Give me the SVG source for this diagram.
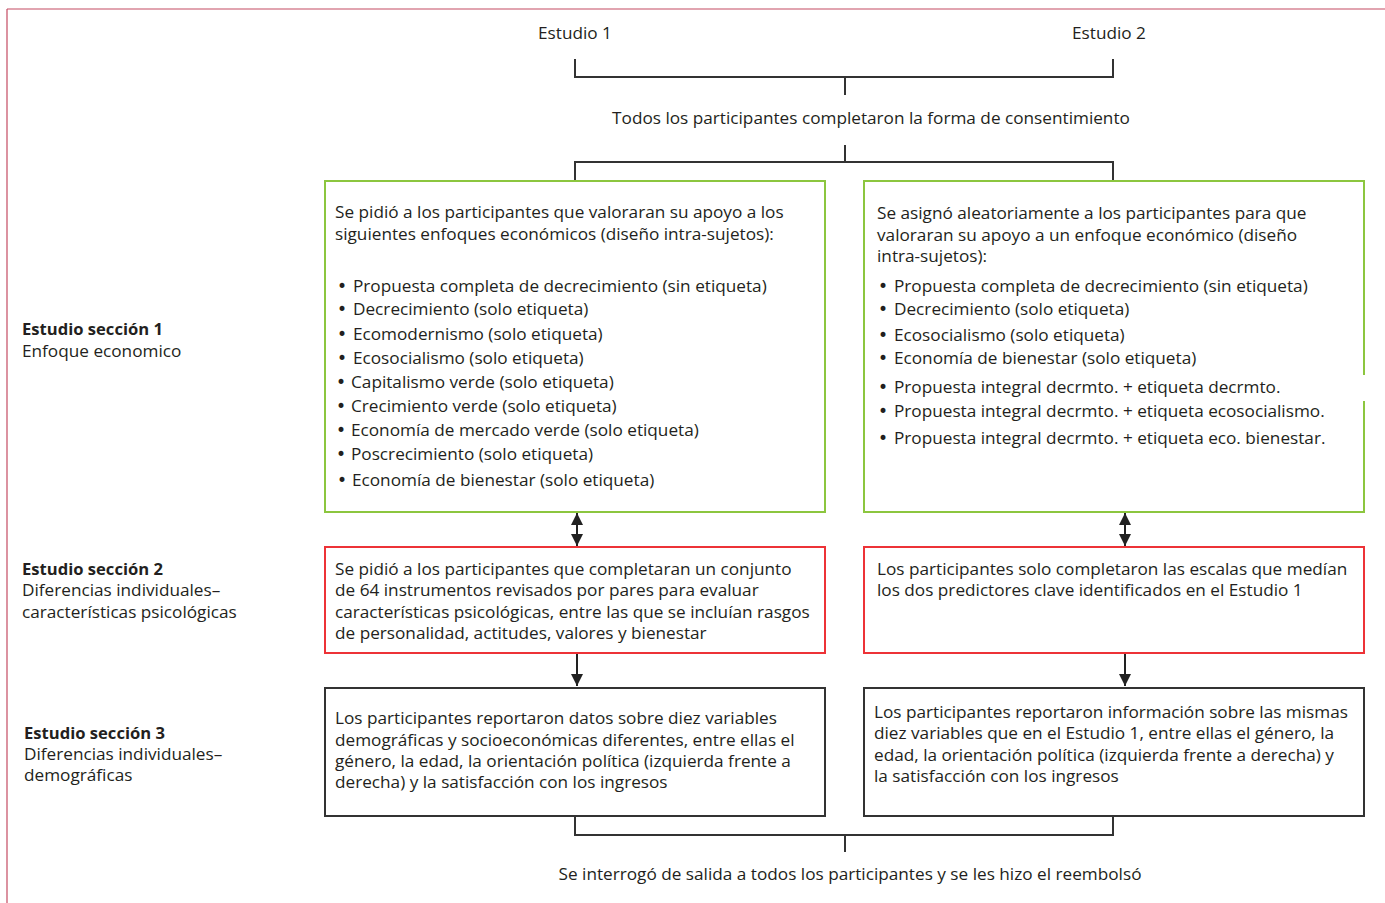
<svg xmlns="http://www.w3.org/2000/svg" width="1385" height="903" viewBox="0 0 1385 903">
<defs>
<style>
text{font-family:"Open Sans","Noto Sans",sans-serif;font-size:17.2px;fill:#231f20}
.b{font-weight:bold;font-size:16.6px}
.c{text-anchor:middle}
.u{font-family:"DejaVu Sans",sans-serif;font-size:17px}
.g{fill:#fff;stroke:#8cc63f;stroke-width:2}
.r{fill:#fff;stroke:#ed3237;stroke-width:2}
.k{fill:#fff;stroke:#333;stroke-width:2}
.ln{fill:none;stroke:#333;stroke-width:2}
.ar{fill:none;stroke:#222;stroke-width:2}
</style>
<marker id="ah2" viewBox="0 0 10 10" refX="10" refY="5" markerWidth="12" markerHeight="12" orient="auto-start-reverse" markerUnits="userSpaceOnUse">
<path d="M0,0 L10,5 L0,10 z" fill="#222"/>
</marker>
</defs>
<rect width="1385" height="903" fill="#fff"/>
<g id="frame">
<line x1="7" y1="9" x2="1385" y2="9" stroke="#c44a62" stroke-width="1.2"/>
<line x1="7" y1="9" x2="7" y2="903" stroke="#c44a62" stroke-width="1.2"/>
</g>
<g id="connectors">
<path class="ln" d="M575,59 V77 H1113 V59 M845,77 V95"/>
<path class="ln" d="M845,145 V162 M575,181 V162 H1113 V181"/>
<path class="ln" d="M575,816 V835 H1113 V816 M845,835 V852"/>
<line class="ar" x1="577" y1="513" x2="577" y2="546" marker-start="url(#ah2)" marker-end="url(#ah2)"/>
<line class="ar" x1="1125" y1="513" x2="1125" y2="546" marker-start="url(#ah2)" marker-end="url(#ah2)"/>
<line class="ar" x1="577" y1="654" x2="577" y2="686" marker-end="url(#ah2)"/>
<line class="ar" x1="1125" y1="654" x2="1125" y2="686" marker-end="url(#ah2)"/>
</g>
<g id="estudio1"><text class="c" x="575" y="39">Estudio 1</text></g>
<g id="estudio2"><text class="c" x="1109" y="39">Estudio 2</text></g>
<g id="consent"><text class="c" x="871" y="124">Todos los participantes completaron la forma de consentimiento</text></g>
<g id="label1">
<text class="b" x="22" y="335">Estudio sección 1</text>
<text x="22" y="357">Enfoque economico</text>
</g>
<g id="label2">
<text class="b" x="22" y="575">Estudio sección 2</text>
<text x="22" y="596">Diferencias individuales–</text>
<text x="22" y="618">características psicológicas</text>
</g>
<g id="label3">
<text class="b" x="24" y="739">Estudio sección 3</text>
<text x="24" y="760">Diferencias individuales–</text>
<text x="24" y="781">demográficas</text>
</g>
<g id="s1-e1">
<rect class="g" x="325" y="181" width="500" height="331"/>
<text x="335" y="218">Se pidió a los participantes que valoraran su apoyo a los</text>
<text x="335" y="240">siguientes enfoques económicos (diseño intra-sujetos):</text>
<text x="337" y="292"><tspan class="u">•</tspan><tspan x="353">Propuesta completa de decrecimiento (sin etiqueta)</tspan></text>
<text x="337" y="315"><tspan class="u">•</tspan><tspan x="353">Decrecimiento (solo etiqueta)</tspan></text>
<text x="337" y="340"><tspan class="u">•</tspan><tspan x="353">Ecomodernismo (solo etiqueta)</tspan></text>
<text x="337" y="364"><tspan class="u">•</tspan><tspan x="353">Ecosocialismo (solo etiqueta)</tspan></text>
<text x="336" y="388"><tspan class="u">•</tspan><tspan x="351">Capitalismo verde (solo etiqueta)</tspan></text>
<text x="336" y="412"><tspan class="u">•</tspan><tspan x="351">Crecimiento verde (solo etiqueta)</tspan></text>
<text x="336" y="436"><tspan class="u">•</tspan><tspan x="351">Economía de mercado verde (solo etiqueta)</tspan></text>
<text x="336" y="460"><tspan class="u">•</tspan><tspan x="351">Poscrecimiento (solo etiqueta)</tspan></text>
<text x="337" y="486"><tspan class="u">•</tspan><tspan x="352">Economía de bienestar (solo etiqueta)</tspan></text>
</g>
<g id="s1-e2">
<rect class="g" x="864" y="181" width="500" height="331"/>
<rect x="1360" y="375" width="8" height="26" fill="#fff"/>
<text x="877" y="219">Se asignó aleatoriamente a los participantes para que</text>
<text x="877" y="241">valoraran su apoyo a un enfoque económico (diseño</text>
<text x="877" y="262">intra-sujetos):</text>
<text x="878" y="292"><tspan class="u">•</tspan><tspan x="894">Propuesta completa de decrecimiento (sin etiqueta)</tspan></text>
<text x="878" y="315"><tspan class="u">•</tspan><tspan x="894">Decrecimiento (solo etiqueta)</tspan></text>
<text x="878" y="341"><tspan class="u">•</tspan><tspan x="894">Ecosocialismo (solo etiqueta)</tspan></text>
<text x="878" y="364"><tspan class="u">•</tspan><tspan x="894">Economía de bienestar (solo etiqueta)</tspan></text>
<text x="878" y="393"><tspan class="u">•</tspan><tspan x="894">Propuesta integral decrmto. + etiqueta decrmto.</tspan></text>
<text x="878" y="417"><tspan class="u">•</tspan><tspan x="894">Propuesta integral decrmto. + etiqueta ecosocialismo.</tspan></text>
<text x="878" y="444"><tspan class="u">•</tspan><tspan x="894">Propuesta integral decrmto. + etiqueta eco. bienestar.</tspan></text>
</g>
<g id="s2-e1">
<rect class="r" x="325" y="547" width="500" height="106"/>
<text x="335" y="575">Se pidió a los participantes que completaran un conjunto</text>
<text x="335" y="596">de 64 instrumentos revisados por pares para evaluar</text>
<text x="335" y="618">características psicológicas, entre las que se incluían rasgos</text>
<text x="335" y="639">de personalidad, actitudes, valores y bienestar</text>
</g>
<g id="s2-e2">
<rect class="r" x="864" y="547" width="500" height="106"/>
<text x="877" y="575">Los participantes solo completaron las escalas que medían</text>
<text x="877" y="596">los dos predictores clave identificados en el Estudio 1</text>
</g>
<g id="s3-e1">
<rect class="k" x="325" y="688" width="500" height="128"/>
<text x="335" y="724">Los participantes reportaron datos sobre diez variables</text>
<text x="335" y="746">demográficas y socioeconómicas diferentes, entre ellas el</text>
<text x="335" y="767">género, la edad, la orientación política (izquierda frente a</text>
<text x="335" y="788">derecha) y la satisfacción con los ingresos</text>
</g>
<g id="s3-e2">
<rect class="k" x="864" y="688" width="500" height="128"/>
<text x="874" y="718">Los participantes reportaron información sobre las mismas</text>
<text x="874" y="739">diez variables que en el Estudio 1, entre ellas el género, la</text>
<text x="874" y="761">edad, la orientación política (izquierda frente a derecha) y</text>
<text x="874" y="782">la satisfacción con los ingresos</text>
</g>
<g id="debrief"><text class="c" x="850" y="880">Se interrogó de salida a todos los participantes y se les hizo el reembolsó</text></g>
</svg>
